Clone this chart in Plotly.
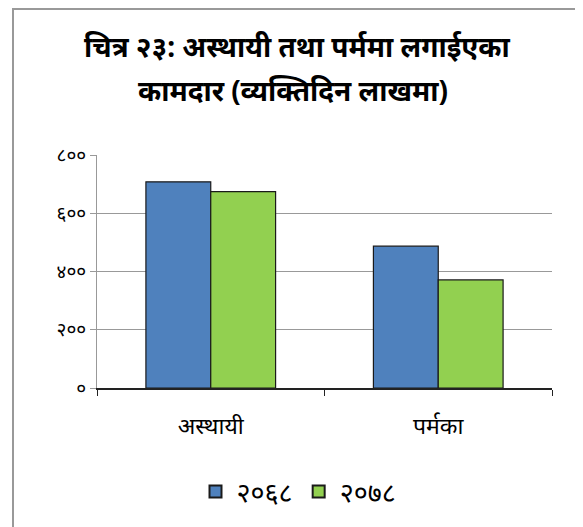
import plotly.graph_objects as go

categories = ["अस्थायी", "पर्मका"]
series_names = ["२०६८", "२०७८"]
values_2068 = [708, 487]
values_2078 = [674, 371]
y_tick_values = [0, 200, 400, 600, 800]
y_tick_labels = ["०", "२००", "४००", "६००", "८००"]
title_line1 = "चित्र २३: अस्थायी तथा पर्ममा लगाईएका"
title_line2 = "कामदार (व्यक्तिदिन लाखमा)"

# page body has 8px margin; figure coordinates below are screen coords minus 8
OFF = 8
W, H = 583, 527
ml, mt = 97 - OFF, 155 - OFF
plot_right, plot_bottom = 552 - OFF, 388 - OFF
mr, mb = W - plot_right, H - plot_bottom
pw, ph = W - ml - mr, H - mt - mb

def px(x):
    return (x - OFF - ml) / pw

def py(y):
    return (H - mb - (y - OFF)) / ph

font_fam = "Noto Sans, Lato, sans-serif"

fig = go.Figure()
fig.add_trace(go.Bar(x=categories, y=values_2068, name=series_names[0],
                     marker=dict(color="#4F81BD", line=dict(color="#1a1a1a", width=1.2))))
fig.add_trace(go.Bar(x=categories, y=values_2078, name=series_names[1],
                     marker=dict(color="#92D050", line=dict(color="#1a1a1a", width=1.2))))

fig.update_layout(
    width=W, height=H,
    margin=dict(l=ml, r=mr, t=mt, b=mb),
    paper_bgcolor="white", plot_bgcolor="white",
    barmode="group", bargap=0.43, bargroupgap=0,
    font=dict(family=font_fam, color="#000000"),
    showlegend=True,
    legend=dict(orientation="h", x=px(298), xanchor="center",
                y=py(492), yanchor="middle",
                font=dict(size=27), itemsizing="constant", traceorder="normal",
                itemwidth=32),
    xaxis=dict(showline=True, linecolor="#222222", linewidth=1.8,
               ticks="outside", tickson="boundaries", ticklen=6, tickcolor="#222222",
               tickfont=dict(size=23), showgrid=False, ticklabelstandoff=16),
    yaxis=dict(range=[0, 800], tickvals=y_tick_values, ticktext=y_tick_labels,
               showline=True, linecolor="#999999", linewidth=1,
               ticks="outside", ticklen=6, tickcolor="#999999",
               showgrid=True, gridcolor="#999999", gridwidth=1,
               tickfont=dict(size=19), zeroline=False),
    annotations=[
        dict(text="<b>" + title_line1 + "</b>", xref="paper", yref="paper",
             x=px(297), y=py(46), xanchor="center", yanchor="middle",
             showarrow=False, font=dict(size=28, color="#000000")),
        dict(text="<b>" + title_line2 + "</b>", xref="paper", yref="paper",
             x=px(293), y=py(90), xanchor="center", yanchor="middle",
             showarrow=False, font=dict(size=28, color="#000000")),
    ],
    shapes=[dict(type="rect", xref="paper", yref="paper",
                 x0=px(13), x1=px(580), y0=py(540), y1=py(9),
                 line=dict(color="#999999", width=2), fillcolor="rgba(0,0,0,0)",
                 layer="below")],
)

fig.write_html("out.html")
